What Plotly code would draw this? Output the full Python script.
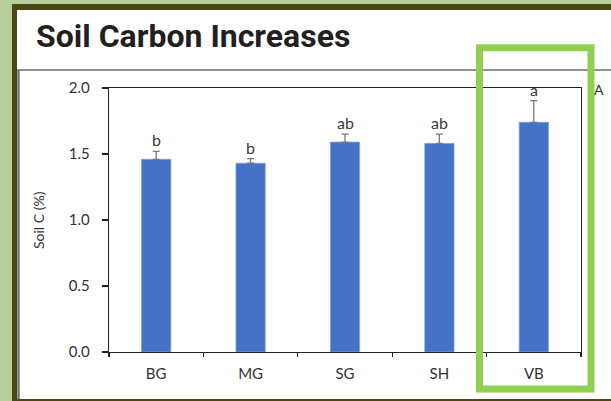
import plotly.graph_objects as go

categories = ["BG", "MG", "SG", "SH", "VB"]
soil_c = [1.46, 1.43, 1.59, 1.58, 1.74]
err_up = [0.06, 0.035, 0.06, 0.07, 0.165]
letters = ["b", "b", "ab", "ab", "a"]
y_ticks = [0.0, 0.5, 1.0, 1.5, 2.0]
y_ticklabels = ["0.0", "0.5", "1.0", "1.5", "2.0"]

W, H = 611, 401
L, R, T, B = 109, 30, 88, 49
PW, PH = W - L - R, H - T - B

def px(x):
    return (x - L) / PW

def py(y):
    return (H - B - y) / PH

BAR = "#4472C4"
fig = go.Figure()
fig.add_trace(go.Bar(
    x=categories, y=soil_c,
    marker=dict(color=BAR, line=dict(color="#7f9fd9", width=0.8)),
    width=0.31,
    error_y=dict(type="data", array=err_up, arrayminus=[0] * len(err_up),
                 symmetric=False, color="#7a7a7a", thickness=1.3, width=3.5),
    showlegend=False,
    hoverinfo="skip",
))

annotations = []
for c, v, e, t in zip(categories, soil_c, err_up, letters):
    annotations.append(dict(x=c, y=v + e, xref="x", yref="y", text=t,
                            showarrow=False, yanchor="bottom", yshift=0,
                            font=dict(family="Lato", size=16, color="#3a3a3a")))

annotations += [
    dict(x=px(34), y=py(36), xref="paper", yref="paper", text="Soil Carbon Increases",
         showarrow=False, xanchor="left", yanchor="middle",
         font=dict(family="Roboto", size=32, color="#231f20", weight=700)),
    dict(x=px(38), y=py(220), xref="paper", yref="paper", text="Soil C (%)",
         showarrow=False, textangle=-90, xanchor="center", yanchor="middle",
         font=dict(family="Lato", size=14, color="#333")),
    dict(x=px(599), y=py(89), xref="paper", yref="paper", text="A",
         showarrow=False, xanchor="center", yanchor="middle",
         font=dict(family="Lato", size=14, color="#333")),
]

shapes = [
    dict(type="rect", xref="paper", yref="paper", x0=px(12), x1=px(640), y0=py(4), y1=py(420),
         fillcolor="#4d4515", line=dict(width=0), layer="below"),
    dict(type="rect", xref="paper", yref="paper", x0=px(17), x1=px(640), y0=py(10), y1=py(399),
         fillcolor="white", line=dict(width=0), layer="below"),
    dict(type="line", xref="paper", yref="paper", x0=px(17), x1=px(640), y0=py(70), y1=py(70),
         line=dict(color="#222", width=1.2), layer="below"),
    dict(type="line", xref="paper", yref="paper", x0=px(18.5), x1=px(18.5), y0=py(70), y1=py(399),
         line=dict(color="#777", width=2.5), layer="below"),
    dict(type="rect", xref="paper", yref="paper", x0=px(479.5), x1=px(591), y0=py(47.8), y1=py(389),
         fillcolor="rgba(0,0,0,0)", line=dict(color="#92d050", width=7), layer="above"),
]

fig.update_layout(
    width=W, height=H,
    margin=dict(l=L, r=R, t=T, b=B, pad=0),
    paper_bgcolor="#b7cf9c",
    plot_bgcolor="rgba(0,0,0,0)",
    font=dict(family="Lato", color="#333"),
    annotations=annotations,
    shapes=shapes,
    bargap=0.69,
)
fig.update_xaxes(
    type="category", showline=True, mirror=True, linecolor="#222", linewidth=1.2,
    ticks="outside", tickson="boundaries", ticklen=4, tickcolor="#222", tickwidth=1.2,
    tickfont=dict(family="Lato", size=15, color="#333"), showgrid=False,
    ticklabelstandoff=8,
)
fig.update_yaxes(
    range=[0, 2.0], tickvals=y_ticks, ticktext=y_ticklabels,
    showline=True, mirror=True, linecolor="#222", linewidth=1.2,
    ticks="outside", ticklen=6, tickcolor="#222", tickwidth=1.2,
    tickfont=dict(family="Lato", size=15, color="#333"), showgrid=False, zeroline=False,
    ticklabelstandoff=9,
)

fig.write_html("out.html", config={"displayModeBar": False, "staticPlot": True},
               post_script="document.body.style.margin='0px';document.body.style.overflow='hidden';")
